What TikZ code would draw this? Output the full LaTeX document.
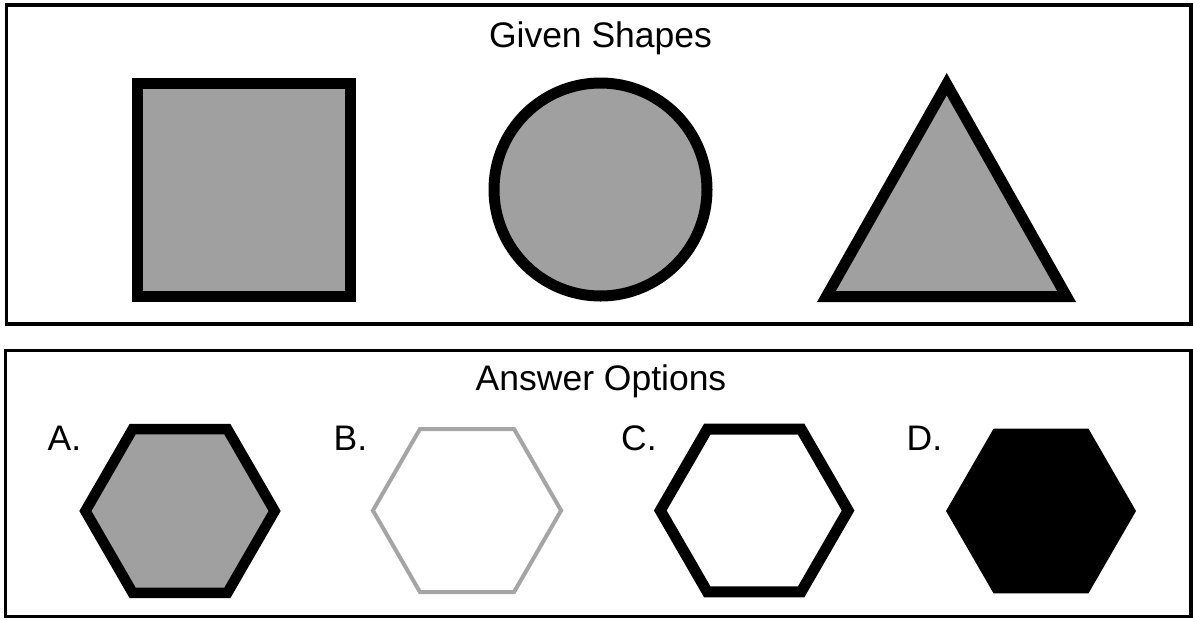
\documentclass[tikz,border=0pt]{standalone}
\usepackage{fontspec}
\setmainfont{Liberation Sans}
\definecolor{shapegray}{RGB}{160,160,161}
\definecolor{linegray}{RGB}{165,165,165}
\begin{document}
\begin{tikzpicture}[x=1pt,y=-1pt,
  frame/.style={draw=black,line width=3.5pt},
  thick shape/.style={draw=black,line width=11pt,line join=miter},
  title/.style={inner sep=0pt,anchor=base,font=\fontsize{35.5}{42}\selectfont},
  optlabel/.style={inner sep=0pt,anchor=base west,font=\fontsize{35.5}{42}\selectfont}]
\useasboundingbox (0,0) rectangle (1193,619);
\fill[white] (0,0) rectangle (1193,619);
% frames
\draw[frame] (6.5,5) rectangle (1190.8,324);
\draw[frame] (5.5,350.5) rectangle (1190.8,616.5);
% titles
\node[title] (given) at (600.5,47) {Given Shapes};
\node[title] (answer) at (601,390.7) {Answer Options};
% given shapes
\draw[thick shape,fill=shapegray] (137.5,83.5) rectangle (350.5,296.5);
\draw[thick shape,fill=shapegray] (600.5,189.5) circle[radius=106.5];
\draw[thick shape,fill=shapegray] (826.4,296.5) -- (946.7,84.2) -- (1066.6,296.5) -- cycle;
% option labels
\node[optlabel] (la) at (47.5,450) {A.};
\node[optlabel] (lb) at (333.5,450) {B.};
\node[optlabel] (lc) at (621,450) {C.};
\node[optlabel] (ld) at (906.5,450) {D.};
% hexagons
\draw[draw=black,line width=10.5pt,line join=miter,fill=shapegray,shift={(180,511)}]
  (0:94.6) -- (60:94.6) -- (120:94.6) -- (180:94.6) -- (240:94.6) -- (300:94.6) -- cycle;
\draw[draw=linegray,line width=4pt,line join=miter,fill=white,shift={(467,510.5)}]
  (0:94.1) -- (60:94.1) -- (120:94.1) -- (180:94.1) -- (240:94.1) -- (300:94.1) -- cycle;
\draw[draw=black,line width=11pt,line join=miter,fill=white,shift={(754.2,510.5)}]
  (0:93.9) -- (60:93.9) -- (120:93.9) -- (180:93.9) -- (240:93.9) -- (300:93.9) -- cycle;
\fill[black,shift={(1041,511)}]
  (0:95) -- (60:95) -- (120:95) -- (180:95) -- (240:95) -- (300:95) -- cycle;
\end{tikzpicture}
\end{document}
